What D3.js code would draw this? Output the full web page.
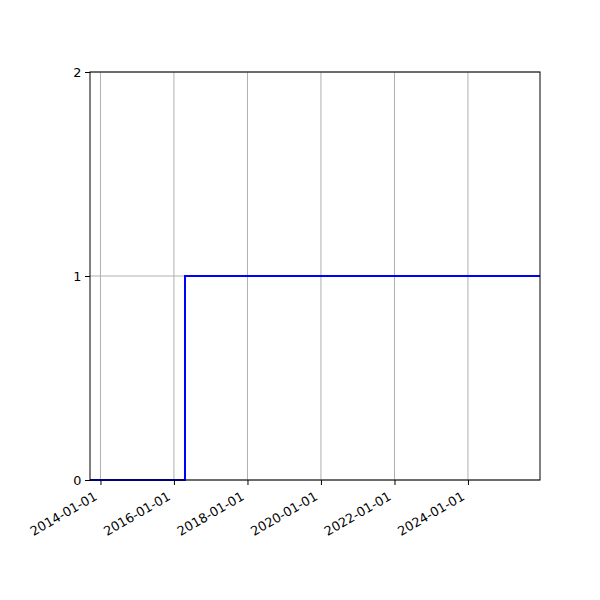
<!DOCTYPE html>
<html>
<head>
<meta charset="utf-8">
<script src="https://cdn.jsdelivr.net/npm/d3@7"></script>
<style>
    body { margin: 0; background: #fff; }
    text { font-family: "DejaVu Sans", sans-serif; }
</style>
</head>
<body>
<div id="chart"></div>
<script>

// step series: value holds from each date until the next one
const dates = ["2013-09-19", "2016-04-20", "2025-12-17"];
const values = [0, 1, 1];
const xTickLabels = ["2014-01-01", "2016-01-01", "2018-01-01", "2020-01-01", "2022-01-01", "2024-01-01"];
const yTickValues = [0, 1, 2];

class StepChart {

    constructor(parentElement, width, height) {
        this.parentElement = parentElement;
        this.baseWidth = width;
        this.baseHeight = height;

        this.initVis();
    }

    initVis() {
        let vis = this;

        vis.margin = {top: 72, right: 60, bottom: 120, left: 90};
        vis.width = vis.baseWidth - vis.margin.left - vis.margin.right;
        vis.height = vis.baseHeight - vis.margin.top - vis.margin.bottom;
        vis.fontSize = 12.8;

        vis.svg = d3.select("#" + vis.parentElement).append("svg")
            .attr("width", vis.baseWidth)
            .attr("height", vis.baseHeight)
            .append("g")
            .attr("transform", "translate(" + vis.margin.left + "," + vis.margin.top + ")");

        vis.wrangleData();
    }

    wrangleData() {
        let vis = this;
        let parse = d3.timeParse("%Y-%m-%d");

        vis.data = dates.map((d, i) => ({date: parse(d), value: values[i]}));
        vis.ticks = xTickLabels.map(parse);

        vis.x = d3.scaleTime()
            .domain(d3.extent(vis.data, d => d.date))
            .range([0, vis.width]);

        vis.y = d3.scaleLinear()
            .domain([0, 2])
            .range([vis.height, 0]);

        vis.updateVis();
    }

    updateVis() {
        let vis = this;

        // grid
        vis.svg.append("g")
            .selectAll("line.vgrid")
            .data(vis.ticks)
            .enter().append("line")
            .attr("x1", d => vis.x(d))
            .attr("x2", d => vis.x(d))
            .attr("y1", 0)
            .attr("y2", vis.height)
            .attr("stroke", "#b0b0b0")
            .attr("stroke-width", 1);

        vis.svg.append("g")
            .selectAll("line.hgrid")
            .data(yTickValues)
            .enter().append("line")
            .attr("x1", 0)
            .attr("x2", vis.width)
            .attr("y1", d => vis.y(d))
            .attr("y2", d => vis.y(d))
            .attr("stroke", "#b0b0b0")
            .attr("stroke-width", 1);

        // the step line
        let line = d3.line()
            .x(d => vis.x(d.date))
            .y(d => vis.y(d.value))
            .curve(d3.curveStepAfter);

        vis.svg.append("path")
            .datum(vis.data)
            .attr("d", line)
            .attr("fill", "none")
            .attr("stroke", "#0000ff")
            .attr("stroke-width", 2);

        // frame
        vis.svg.append("rect")
            .attr("width", vis.width)
            .attr("height", vis.height)
            .attr("fill", "none")
            .attr("stroke", "#000")
            .attr("stroke-width", 1);

        // axes
        let xAxis = d3.axisBottom(vis.x)
            .tickValues(vis.ticks)
            .tickFormat(d3.timeFormat("%Y-%m-%d"))
            .tickSize(5);

        let xg = vis.svg.append("g")
            .attr("transform", "translate(0," + vis.height + ")")
            .call(xAxis);
        xg.select(".domain").remove();
        xg.selectAll("line").attr("stroke-width", 1);
        xg.selectAll("text")
            .attr("font-size", vis.fontSize)
            .attr("font-family", "DejaVu Sans")
            .attr("fill", "#000")
            .attr("text-anchor", "end")
            .attr("x", 0)
            .attr("y", 0)
            .attr("dy", 0)
            .attr("transform", "translate(-3,19) rotate(-30)");

        let yAxis = d3.axisLeft(vis.y)
            .tickValues(yTickValues)
            .tickFormat(d3.format("d"))
            .tickSize(5)
            .tickPadding(3.5);

        let yg = vis.svg.append("g").call(yAxis);
        yg.select(".domain").remove();
        yg.selectAll("line").attr("stroke-width", 1);
        yg.selectAll("text")
            .attr("font-size", vis.fontSize)
            .attr("font-family", "DejaVu Sans")
            .attr("fill", "#000");
    }
}

new StepChart("chart", 600, 600);

</script>
</body>
</html>
